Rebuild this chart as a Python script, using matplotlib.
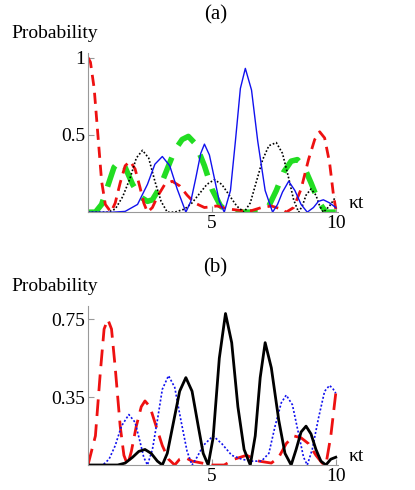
import matplotlib
matplotlib.use("Agg")
import matplotlib.pyplot as plt

plt.rcParams['font.family'] = ['Liberation Serif', 'DejaVu Serif']

# Panel (a)
a_blue_t = [0,1,1.5,2.0,2.4,2.7,3.0,3.3,3.6,3.95,4.15,4.35,4.55,4.7,4.9,5.1,5.3,5.5,5.75,5.95,6.15,6.35,6.6,6.85,7.15,7.45,7.65,7.85,8.1,8.35,8.6,8.85,9.1,9.3,9.5,9.75,10]
a_blue_y = [0,0,0.005,0.05,0.18,0.31,0.36,0.30,0.15,0,0.07,0.22,0.38,0.44,0.37,0.22,0.07,0,0.14,0.46,0.8,0.93,0.79,0.46,0.14,0,0.05,0.13,0.2,0.14,0.05,0,0.03,0.07,0.08,0.06,0.03]
a_black_t = [0,0.8,1.1,1.4,1.7,1.95,2.2,2.45,2.7,2.95,3.2,3.5,3.9,4.2,4.5,4.8,5.1,5.4,5.7,6.0,6.3,6.55,6.8,7.05,7.3,7.6,7.85,8.1,8.3,8.5,8.65,8.8,9.0,9.2,9.35,9.5,9.75,10]
a_black_y = [0,0,0.02,0.1,0.22,0.35,0.4,0.35,0.2,0.07,0,0,0.02,0.06,0.12,0.18,0.21,0.18,0.11,0.04,0,0.06,0.2,0.34,0.43,0.45,0.38,0.22,0.08,0,0.04,0.11,0.15,0.11,0.04,0,0.04,0.1]
a_red_t = [0,0.1,0.25,0.4,0.55,0.7,0.93,1.1,1.3,1.5,1.7,1.9,2.1,2.25,2.4,2.6,2.8,3.1,3.4,3.7,4.0,4.3,4.7,5.2,5.7,6.2,6.6,7.0,7.4,7.8,8.0,8.3,8.6,8.9,9.15,9.35,9.55,9.75,9.9,10]
a_red_y = [1.0,0.97,0.8,0.5,0.2,0.05,0,0.06,0.19,0.3,0.33,0.28,0.16,0.06,0,0.03,0.1,0.18,0.2,0.17,0.11,0.06,0.03,0.04,0.02,0.01,0.01,0.03,0.04,0.02,0.0,0.03,0.15,0.34,0.47,0.52,0.48,0.32,0.12,0.02]
a_green_t = [0,0.3,0.55,0.8,1.05,1.25,1.5,1.8,2.1,2.4,2.6,2.9,3.2,3.5,3.8,4.05,4.35,4.7,5.0,5.35,5.7,7.0,7.3,7.6,7.9,8.2,8.45,8.7,9.0,9.3,9.6,10]
a_green_y = [0,0,0.05,0.17,0.29,0.33,0.29,0.18,0.1,0.07,0.08,0.16,0.28,0.4,0.47,0.49,0.44,0.3,0.15,0.04,0,0,0.04,0.14,0.26,0.33,0.34,0.3,0.19,0.07,0,0]

# Panel (b)
b_red_t = [0,0.3,0.5,0.65,0.8,0.95,1.1,1.3,1.45,1.6,1.75,1.95,2.15,2.3,2.5,2.75,3.0,3.25,3.5,3.7,3.9,4.2,4.6,5.0,5.5,5.9,6.4,6.9,7.4,7.7,8.0,8.3,8.6,8.9,9.2,9.45,9.6,9.8,10]
b_red_y = [0,0.15,0.48,0.7,0.75,0.7,0.5,0.2,0.05,0,0.07,0.2,0.3,0.33,0.3,0.2,0.1,0.03,0,0.03,0.04,0.02,0.01,0,0,0.03,0.05,0.02,0.01,0.04,0.11,0.15,0.14,0.11,0.05,0.01,0,0.15,0.37]
b_blue_t = [0,0.6,0.85,1.1,1.35,1.65,1.9,2.1,2.25,2.4,2.6,2.8,3.0,3.25,3.5,3.75,4.0,4.2,4.4,4.65,5.05,5.4,5.8,6.2,6.6,7.0,7.3,7.55,7.8,8.0,8.25,8.5,8.7,8.85,9.05,9.3,9.55,9.75,9.9,10]
b_blue_y = [0,0,0.03,0.1,0.2,0.26,0.22,0.12,0.04,0,0.08,0.23,0.39,0.46,0.4,0.23,0.07,0,0.04,0.1,0.15,0.11,0.05,0.03,0.02,0.02,0.06,0.2,0.32,0.36,0.31,0.16,0.04,0,0.08,0.24,0.38,0.41,0.39,0.37]
b_black_t = [0,1.2,1.5,1.8,2.05,2.3,2.55,2.8,3.0,3.2,3.45,3.7,3.95,4.2,4.45,4.65,4.85,5.05,5.3,5.55,5.8,6.05,6.3,6.55,6.75,6.95,7.15,7.4,7.7,7.95,8.2,8.4,8.6,8.8,9.0,9.2,9.4,9.6,9.8,10]
b_black_y = [0,0,0.01,0.04,0.07,0.08,0.06,0.02,0,0.06,0.22,0.38,0.45,0.38,0.2,0.06,0,0.14,0.55,0.78,0.63,0.3,0.08,0,0.15,0.45,0.63,0.5,0.23,0.06,0,0.08,0.17,0.2,0.16,0.08,0.02,0,0.03,0.04]

fig = plt.figure(figsize=(4.15, 4.9), dpi=100)
axa = fig.add_axes([0.212, 0.567, 0.615, 0.325])
axb = fig.add_axes([0.212, 0.051, 0.615, 0.325])

axa.plot(a_green_t, a_green_y, color='#22dd22', lw=4, dashes=(4, 2.5), solid_joinstyle='round')
axa.plot(a_red_t, a_red_y, color='#ee1111', lw=2, dashes=(4, 2.5))
axa.plot(a_black_t, a_black_y, color='black', lw=1.2, dashes=(1, 1.2))
axa.plot(a_blue_t, a_blue_y, color='#1111ee', lw=1)
axa.set_ylim(0, 1.03)
axa.set_yticks([0.5, 1]); axa.set_yticklabels(['0.5', '1'])

axb.plot(b_red_t, b_red_y, color='#ee1111', lw=2, dashes=(6, 3))
axb.plot(b_blue_t, b_blue_y, color='#1111ee', lw=1.2, dashes=(1.2, 1.2))
axb.plot(b_black_t, b_black_y, color='black', lw=2)
axb.set_ylim(0, 0.82)
axb.set_yticks([0.35, 0.75]); axb.set_yticklabels(['0.35', '0.75'])

for ax, title in ((axa, '(a)'), (axb, '(b)')):
    ax.set_xlim(0, 10.3)
    ax.set_xticks([5, 10])
    for s in ('top', 'right'):
        ax.spines[s].set_visible(False)
    for s in ('left', 'bottom'):
        ax.spines[s].set_color('#999999')
    ax.spines['bottom'].set_bounds(0, 10.1)
    ax.tick_params(direction='in', length=4, color='#999999', labelsize=14, pad=2)
    ax.set_title(title, fontsize=15, pad=24)
    ax.text(-0.3, 1.07, 'Probability', transform=ax.transAxes, fontsize=14, ha='left', va='bottom')
    ax.text(1.02, 0.0, 'κt', transform=ax.transAxes, fontsize=14, ha='left', va='bottom')

fig.savefig('out.png', dpi=100)
